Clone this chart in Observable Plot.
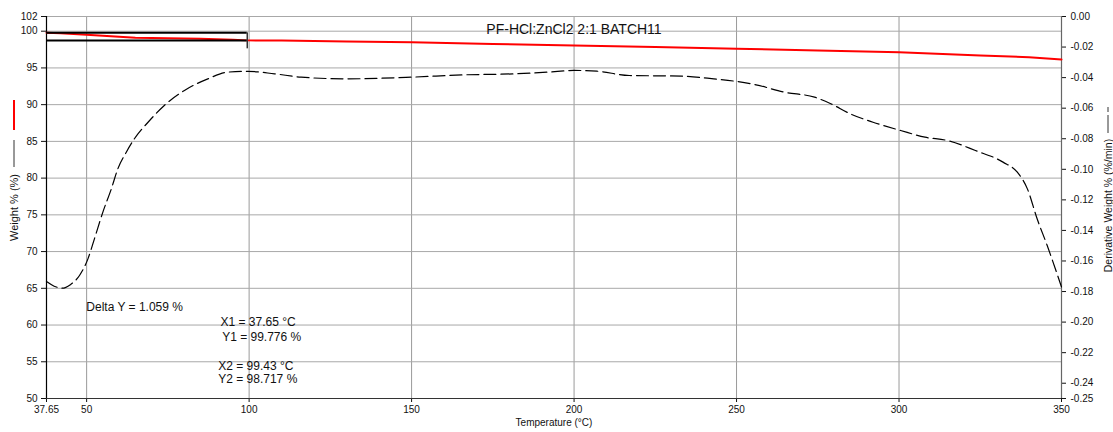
<!DOCTYPE html>
<html>
<head>
<meta charset="utf-8">
<script src="https://cdn.jsdelivr.net/npm/d3@7"></script>
<script src="https://cdn.jsdelivr.net/npm/@observablehq/plot@0.6"></script>
<style>
  html, body { margin: 0; padding: 0; background: #fff; }
  #chart svg { display: block; }
</style>
</head>
<body>
<div id="chart"></div>
<script>
// ---- data ----
const title = "PF-HCl:ZnCl2 2:1 BATCH11";
const weightT = [37.65, 42, 46, 50, 55, 60, 65, 75, 85, 95, 99.43, 110, 130, 150, 175, 200, 225, 250, 275, 300, 325, 340, 350];
const weightPct = [99.776, 99.72, 99.62, 99.52, 99.38, 99.25, 99.12, 99.05, 98.98, 98.82, 98.75, 98.72, 98.6, 98.48, 98.25, 98.05, 97.85, 97.6, 97.38, 97.14, 96.7, 96.45, 96.15];

const derivT = [37.65, 40, 42.5, 45, 47.8, 50.4, 52.4, 55, 57.6, 59.6, 62.2, 64.7, 68.9, 73.9, 80.1, 87.3, 93.5, 99.6, 107.8, 116, 130, 150, 166, 182, 192, 200, 207, 217, 233, 243, 250, 256, 264.6, 274, 279, 285, 292, 300.5, 308, 315, 323.5, 332, 336.4, 339.5, 342.5, 345.6, 350];
const derivVal = [-0.1735, -0.1765, -0.1778, -0.1755, -0.1695, -0.1586, -0.1455, -0.128, -0.1128, -0.0997, -0.0888, -0.080, -0.0692, -0.0582, -0.0484, -0.0408, -0.0364, -0.0359, -0.0375, -0.0397, -0.0408, -0.0397, -0.0382, -0.0375, -0.0364, -0.0353, -0.0358, -0.0386, -0.039, -0.0408, -0.0425, -0.0447, -0.0495, -0.0528, -0.0571, -0.0637, -0.0692, -0.0746, -0.079, -0.0812, -0.0877, -0.0953, -0.1019, -0.1128, -0.1324, -0.1499, -0.177];

const xTicks = [37.65, 50, 100, 150, 200, 250, 300, 350];
const xGrid = [50, 100, 150, 200, 250, 300, 350];
const yTicks = [50, 55, 60, 65, 70, 75, 80, 85, 90, 95, 100, 102];
const yGrid = [55, 60, 65, 70, 75, 80, 85, 90, 95, 100, 102];
const dTicks = [0, -0.02, -0.04, -0.06, -0.08, -0.10, -0.12, -0.14, -0.16, -0.18, -0.20, -0.22, -0.24, -0.25];
const dTickLabels = ["0.00", "-0.02", "-0.04", "-0.06", "-0.08", "-0.10", "-0.12", "-0.14", "-0.16", "-0.18", "-0.20", "-0.22", "-0.24", "-0.25"];

// cursor readout
const cursorX = [37.65, 99.43];
const cursorY = [99.776, 98.717];
const cursorBottom = 97.6;
const annotations = [
  {x: 49.9, y: 62.4, text: "Delta Y = 1.059 %"},
  {x: 91.2, y: 60.35, text: "X1 = 37.65 °C"},
  {x: 91.7, y: 58.3, text: "Y1 = 99.776 %"},
  {x: 90.5, y: 54.4, text: "X2 = 99.43 °C"},
  {x: 90.5, y: 52.6, text: "Y2 = 98.717 %"}
];

// ---- dual-axis mapping: derivative (right) -> weight scale (left) ----
const yMin = 50, yMax = 102, dMin = -0.25, dMax = 0;
const toY = d => yMin + (d - dMin) * (yMax - yMin) / (dMax - dMin);

const weight = weightT.map((t, i) => ({t, w: weightPct[i]}));
const deriv = derivT.map((t, i) => ({t, d: derivVal[i]}));

const font = "'Liberation Sans', Arial, sans-serif";

const plot = Plot.plot({
  width: 1113,
  height: 432,
  marginLeft: 46,
  marginRight: 52,
  marginTop: 16,
  marginBottom: 34,
  style: {fontFamily: font, fontSize: "10px", color: "#111", background: "#fff"},
  x: {domain: [37.65, 350]},
  y: {domain: [yMin, yMax]},
  marks: [
    Plot.gridX(xGrid, {stroke: "#9a9a9a", strokeOpacity: 1}),
    Plot.gridY(yGrid, {stroke: "#a8a8a8", strokeOpacity: 1}),
    Plot.axisX(xTicks, {tickSize: 4, tickPadding: 3, label: null,
      tickFormat: v => v === 37.65 ? "37.65" : String(v)}),
    Plot.axisY(yTicks, {anchor: "left", tickSize: 5, tickPadding: 4, label: null}),
    Plot.axisY(dTicks.map(toY), {anchor: "right", tickSize: 4, tickPadding: 5, label: null,
      tickFormat: (v, i) => dTickLabels[i]}),
    Plot.ruleX([37.65], {stroke: "#000", strokeWidth: 1.2}),
    Plot.ruleX([350], {stroke: "#666", strokeWidth: 1.2}),
    Plot.ruleY([50], {stroke: "#333", strokeWidth: 1.2}),
    // derivative (dashed black)
    Plot.line(deriv, {x: "t", y: d => toY(d.d), stroke: "#000", strokeWidth: 1.2,
      strokeDasharray: "12,5", curve: "monotone-x"}),
    // weight (red)
    Plot.line(weight, {x: "t", y: "w", stroke: "#ff0000", strokeWidth: 2}),
    // cursor lines
    Plot.ruleY(cursorY, {x1: cursorX[0], x2: cursorX[1], stroke: "#000", strokeWidth: 2}),
    Plot.ruleX([cursorX[1]], {y1: cursorY[0], y2: cursorBottom, stroke: "#333", strokeWidth: 1.5}),
    // annotations
    Plot.text(annotations, {x: "x", y: "y", text: "text", textAnchor: "start",
      fontSize: 12, fill: "#111", fontFamily: font}),
    // title
    Plot.text([title], {frameAnchor: "top", dx: 20, dy: 8, fontSize: 14, fill: "#111", fontFamily: font}),
    // axis labels
    Plot.text(["Temperature (°C)"], {frameAnchor: "bottom", dy: 27, fontSize: 10, fill: "#111", fontFamily: font}),
    Plot.text(["Weight % (%)"], {frameAnchor: "left", textAnchor: "middle", dx: -32, rotate: -90, fontSize: 11, fill: "#111", fontFamily: font}),
    Plot.text(["Derivative Weight % (%/min)"], {frameAnchor: "right", textAnchor: "middle", dx: 47, dy: -2, rotate: -90, fontSize: 10.5, fill: "#111", fontFamily: font})
  ]
});

// legend samples beside the axis titles
const svg = d3.select(plot);
const g = svg.append("g");
g.append("line").attr("x1", 14).attr("x2", 14).attr("y1", 100).attr("y2", 130)
  .attr("stroke", "#ff0000").attr("stroke-width", 2);
g.append("line").attr("x1", 14).attr("x2", 14).attr("y1", 140).attr("y2", 167)
  .attr("stroke", "#333").attr("stroke-width", 1);
g.append("line").attr("x1", 1108).attr("x2", 1108).attr("y1", 107).attr("y2", 112)
  .attr("stroke", "#333").attr("stroke-width", 1);
g.append("line").attr("x1", 1108).attr("x2", 1108).attr("y1", 115).attr("y2", 133)
  .attr("stroke", "#333").attr("stroke-width", 1);

document.getElementById("chart").appendChild(plot);
</script>
</body>
</html>
